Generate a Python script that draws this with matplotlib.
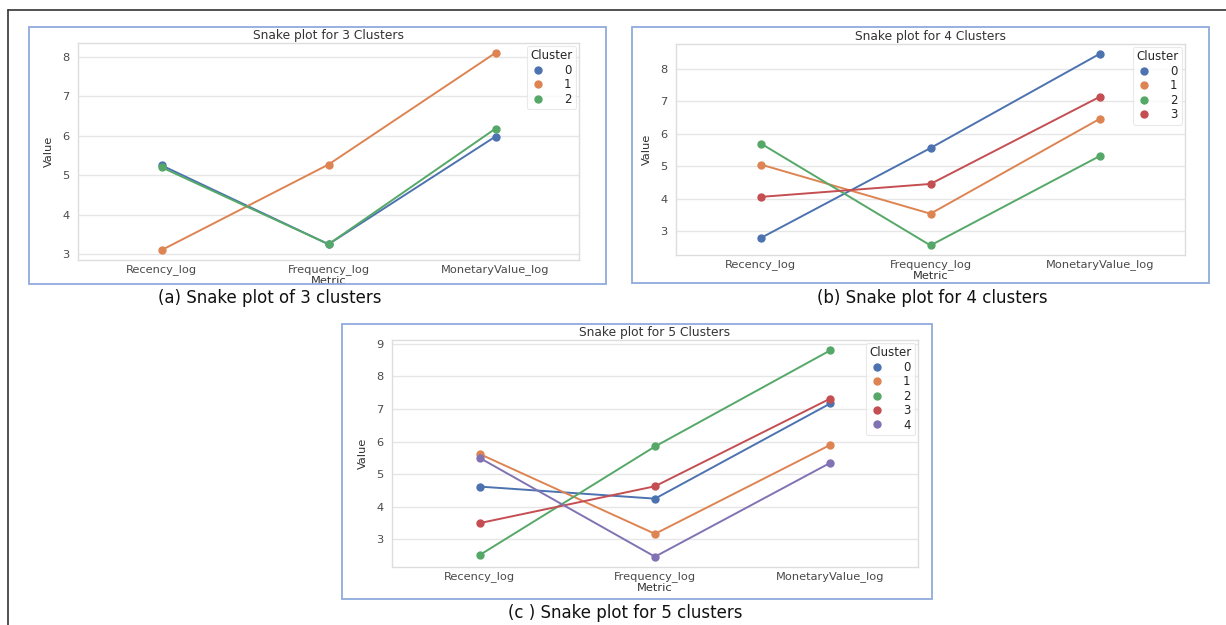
import matplotlib
matplotlib.use("Agg")
import matplotlib.pyplot as plt
from matplotlib.patches import Rectangle
from matplotlib.lines import Line2D
import seaborn as sns

sns.set_theme(style="whitegrid")
plt.rcParams['font.family'] = ['DejaVu Sans']

metrics = ["Recency_log", "Frequency_log", "MonetaryValue_log"]

# 3 clusters
k3_c0 = [5.25, 3.25, 5.98]
k3_c1 = [3.10, 5.27, 8.10]
k3_c2 = [5.20, 3.25, 6.18]

# 4 clusters
k4_c0 = [2.78, 5.56, 8.48]
k4_c1 = [5.05, 3.53, 6.47]
k4_c2 = [5.70, 2.55, 5.32]
k4_c3 = [4.05, 4.45, 7.15]

# 5 clusters
k5_c0 = [4.62, 4.25, 7.17]
k5_c1 = [5.62, 3.17, 5.90]
k5_c2 = [2.52, 5.85, 8.80]
k5_c3 = [3.50, 4.63, 7.32]
k5_c4 = [5.50, 2.47, 5.35]

titles = ["Snake plot for 3 Clusters", "Snake plot for 4 Clusters", "Snake plot for 5 Clusters"]
captions = ["(a) Snake plot of 3 clusters", "(b) Snake plot for 4 clusters", "(c ) Snake plot for 5 clusters"]

palette = ["#4C72B0", "#DD8452", "#55A868", "#C44E52", "#8172B3"]

W, H = 1226, 625
fig = plt.figure(figsize=(W / 100, H / 100), dpi=100)


def px_axes(l, t, r, b):
    return fig.add_axes([l / W, 1 - b / H, (r - l) / W, (b - t) / H])


def frame(l, t, r, b):
    fig.patches.append(Rectangle((l / W, 1 - b / H), (r - l) / W, (b - t) / H,
                                 transform=fig.transFigure, fill=False,
                                 edgecolor="#8faadc", linewidth=1.3))


def snake(ax, series, title):
    x = list(range(len(metrics)))
    handles = []
    for i, vals in enumerate(series):
        ax.plot(x, vals, color=palette[i], lw=1.4, marker="o", ms=5, zorder=3)
        handles.append(Line2D([], [], color=palette[i], lw=0, marker="o", ms=5, label=str(i)))
    ax.set_xticks(x)
    ax.set_xticklabels(metrics)
    ax.set_xlim(-0.5, len(metrics) - 0.5)
    ax.xaxis.grid(False)
    ax.yaxis.grid(True, color="#e6e6e6", lw=1)
    for s in ax.spines.values():
        s.set_color("#dddddd")
        s.set_linewidth(1)
    ax.tick_params(axis="x", labelsize=8.2, colors="#4a4a4a", length=0, pad=3)
    ax.tick_params(axis="y", labelsize=8.2, colors="#4a4a4a", length=0, pad=6)
    ax.set_title(title, fontsize=8.8, color="#333333", pad=3)
    ax.set_xlabel("Metric", fontsize=8.2, color="#333333", labelpad=0.5)
    ax.set_ylabel("Value", fontsize=8.2, color="#333333", labelpad=6)
    leg = ax.legend(handles=handles, title="Cluster", loc="upper right", fontsize=8.5,
                    title_fontsize=8.5, frameon=True, handletextpad=1.6,
                    labelspacing=0.12, borderpad=0.3, borderaxespad=0.25,
                    handlelength=1.2, markerfirst=True)
    leg.get_frame().set_edgecolor("#e4e4e4")
    leg.get_frame().set_linewidth(0.8)


# black outer lines
fig.add_artist(Line2D([8 / W, 1], [1 - 10 / H, 1 - 10 / H], transform=fig.transFigure,
                      color="#333333", lw=1.2))
fig.add_artist(Line2D([8 / W, 8 / W], [1 - 10 / H, 0], transform=fig.transFigure,
                      color="#333333", lw=1.2))

frame(29, 27, 606, 284)
frame(632, 27, 1209, 283)
frame(342, 324, 932, 599)

ax1 = px_axes(78, 43, 579, 260)
snake(ax1, [k3_c0, k3_c1, k3_c2], titles[0])
ax2 = px_axes(676, 44, 1185, 255)
snake(ax2, [k4_c0, k4_c1, k4_c2, k4_c3], titles[1])
ax3 = px_axes(392, 340, 918, 567)
snake(ax3, [k5_c0, k5_c1, k5_c2, k5_c3, k5_c4], titles[2])

cap_kw = dict(fontsize=12, color="#111111", ha="center", va="center",
              family=["DejaVu Sans"])
fig.text(270 / W, 1 - 298 / H, captions[0], **cap_kw)
fig.text(932 / W, 1 - 298 / H, captions[1], **cap_kw)
fig.text(625 / W, 1 - 613 / H, captions[2], **cap_kw)

fig.savefig("out.png", dpi=100)
